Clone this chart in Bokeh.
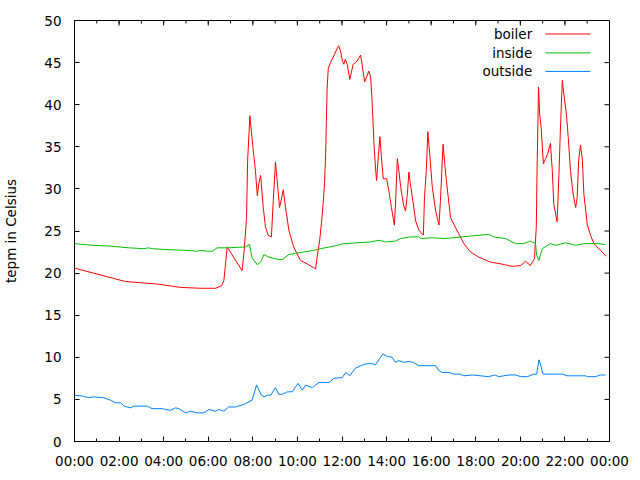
import math
from bokeh.plotting import figure
from bokeh.models import Range1d, FixedTicker
from bokeh.core.properties import value
from bokeh.embed import file_html
from bokeh.resources import INLINE

# ---------------- data ----------------
boiler_time = ["00:00", "00:51", "02:17", "03:43", "04:45", "05:39", "06:20", "06:36", "06:42",
               "06:51", "07:31", "07:36", "07:43", "07:46", "07:52", "07:56", "08:01", "08:07",
               "08:12", "08:16", "08:21", "08:28", "08:34", "08:41", "08:50", "08:55", "09:01",
               "09:07", "09:12", "09:16", "09:22", "09:28", "09:37", "09:50", "10:08", "10:26",
               "10:49", "10:53", "11:00", "11:07", "11:13", "11:16", "11:18", "11:20", "11:23",
               "11:29", "11:38", "11:45", "11:51", "11:56", "12:01", "12:05", "12:09", "12:14",
               "12:21", "12:30", "12:41", "12:50", "12:54", "13:01", "13:08", "13:12", "13:17",
               "13:21", "13:26", "13:30", "13:33", "13:37", "13:42", "13:46", "13:51", "14:00",
               "14:06", "14:13", "14:21", "14:24", "14:29", "14:33", "14:38", "14:46", "14:51",
               "14:56", "15:00", "15:04", "15:12", "15:18", "15:27", "15:39", "15:42", "15:47",
               "15:51", "15:56", "16:03", "16:12", "16:21", "16:25", "16:32", "16:39", "16:48",
               "16:52", "17:01", "17:14", "17:28", "17:46", "18:08", "18:40", "19:07", "19:38",
               "20:01", "20:14", "20:27", "20:38", "20:43", "20:45", "20:49", "20:52", "20:56",
               "21:02", "21:08", "21:14", "21:21", "21:26", "21:30", "21:35", "21:39", "21:44",
               "21:48", "21:53", "21:57", "22:04", "22:09", "22:15", "22:22", "22:29", "22:33",
               "22:37", "22:42", "22:47", "22:51", "23:00", "23:09", "23:18", "23:36", "23:51"]
boiler_temp = [20.6, 20.0, 19.0, 18.7, 18.3, 18.2, 18.2, 18.5, 19.1,
               23.1, 20.3, 22.3, 26.5, 33.4, 38.7, 36.9, 34.6, 32.2,
               29.2, 30.6, 31.6, 27.8, 25.5, 24.5, 24.3, 28.6, 33.2,
               30.2, 27.8, 28.6, 29.9, 27.8, 25.1, 23.1, 21.5, 21.1,
               20.5, 21.9, 23.9, 27.0, 30.6, 34.2, 38.1, 41.9, 44.3,
               45.0, 45.8, 46.5, 47.0, 46.4, 45.2, 44.8, 45.4, 44.8,
               43.0, 44.8, 45.2, 45.9, 44.8, 42.7, 43.5, 44.0, 43.3,
               40.5, 35.4, 32.6, 31.0, 33.4, 36.2, 33.8, 31.2, 31.2,
               29.8, 27.8, 25.7, 28.2, 33.6, 32.2, 30.2, 28.0, 27.4,
               29.4, 32.0, 30.6, 28.2, 26.2, 25.1, 24.5, 29.0, 32.2,
               36.8, 34.2, 30.2, 27.4, 25.7, 28.6, 35.3, 31.8, 28.2,
               26.6, 25.8, 24.7, 23.5, 22.5, 21.9, 21.3, 21.1, 20.8,
               20.9, 21.4, 20.9, 21.7, 25.5, 32.2, 42.1, 38.9, 37.3,
               33.0, 33.6, 34.2, 35.4, 32.2, 28.2, 27.0, 26.1, 31.8,
               37.3, 42.9, 41.3, 38.9, 36.1, 32.2, 29.4, 27.8, 29.0,
               33.4, 35.2, 33.4, 29.4, 25.8, 24.5, 23.5, 22.7, 22.0]

inside_time = ["00:00", "00:48", "01:37", "02:26", "03:07", "03:19", "03:30", "04:05", "05:03",
               "05:30", "05:39", "05:57", "06:11", "06:24", "06:51", "07:40", "07:51", "07:58",
               "08:12", "08:21", "08:30", "08:43", "09:10", "09:19", "09:37", "10:00", "10:17",
               "10:44", "11:02", "11:38", "12:05", "12:41", "13:17", "13:39", "13:57", "14:24",
               "14:38", "15:04", "15:27", "15:31", "16:03", "16:34", "17:01", "17:46", "18:35",
               "18:49", "19:20", "19:47", "20:09", "20:27", "20:41", "20:44", "20:50", "20:59",
               "21:21", "21:35", "22:02", "22:29", "22:51", "23:27", "23:49"]
inside_temp = [23.5, 23.3, 23.2, 23.0, 22.9, 23.0, 22.9, 22.8, 22.7,
               22.6, 22.7, 22.6, 22.6, 23.0, 23.0, 23.1, 23.4, 21.8,
               21.0, 21.3, 22.2, 21.9, 21.6, 21.6, 22.2, 22.4, 22.5,
               22.7, 22.9, 23.2, 23.5, 23.6, 23.7, 23.9, 23.7, 23.8,
               24.1, 24.3, 24.3, 24.1, 24.2, 24.1, 24.2, 24.4, 24.6,
               24.3, 24.1, 23.5, 23.5, 23.8, 23.5, 22.1, 21.5, 22.9,
               23.5, 23.3, 23.6, 23.3, 23.5, 23.5, 23.4]

outside_time = ["00:00", "00:21", "00:38", "00:52", "01:19", "01:37", "01:50", "02:04", "02:13",
                "02:31", "02:40", "03:16", "03:29", "03:56", "04:18", "04:32", "04:41", "04:59",
                "05:12", "05:30", "05:48", "06:02", "06:20", "06:28", "06:42", "06:55", "07:13",
                "07:36", "07:58", "08:10", "08:23", "08:30", "08:39", "08:48", "09:01", "09:10",
                "09:19", "09:33", "09:46", "10:02", "10:13", "10:22", "10:40", "10:58", "11:25",
                "11:38", "12:01", "12:10", "12:21", "12:36", "12:50", "13:03", "13:17", "13:30",
                "13:39", "13:50", "14:02", "14:15", "14:24", "14:33", "14:46", "15:00", "15:12",
                "15:27", "16:12", "16:21", "16:30", "16:48", "17:01", "17:19", "17:28", "17:51",
                "18:13", "18:35", "18:51", "19:02", "19:29", "19:47", "20:01", "20:19", "20:36",
                "20:44", "20:50", "20:54", "21:01", "21:26", "21:53", "22:06", "22:56", "23:00",
                "23:22", "23:36", "23:49"]
outside_temp = [5.5, 5.4, 5.2, 5.3, 5.2, 4.9, 4.6, 4.6, 4.2,
                4.0, 4.2, 4.2, 3.9, 3.9, 3.7, 4.0, 3.9, 3.4,
                3.6, 3.4, 3.4, 3.8, 3.6, 3.8, 3.6, 4.1, 4.1,
                4.4, 4.9, 6.7, 5.5, 5.3, 5.5, 5.5, 6.4, 5.6,
                5.6, 5.9, 5.9, 6.9, 6.1, 6.7, 6.4, 7.0, 7.0,
                7.5, 7.6, 8.2, 7.8, 8.7, 9.0, 9.2, 9.3, 9.1,
                9.7, 10.4, 10.1, 10.0, 9.4, 9.6, 9.4, 9.5, 9.4,
                9.0, 9.0, 8.4, 8.2, 8.2, 8.0, 8.0, 7.8, 7.9,
                7.8, 7.7, 7.9, 7.7, 7.9, 7.9, 7.7, 7.7, 8.0,
                8.0, 9.7, 9.2, 8.0, 8.0, 8.0, 7.8, 7.8, 7.7,
                7.7, 7.9, 7.9]

series_names = ["boiler", "inside", "outside"]
series_colors = ["#ff0000", "#00c000", "#0080ff"]

x_ticks = [0, 2, 4, 6, 8, 10, 12, 14, 16, 18, 20, 22, 24]
x_minor_ticks = list(range(25))
x_tick_labels = ["00:00", "02:00", "04:00", "06:00", "08:00", "10:00", "12:00",
                 "14:00", "16:00", "18:00", "20:00", "22:00", "00:00"]
y_ticks = [0, 5, 10, 15, 20, 25, 30, 35, 40, 45, 50]
y_label = "tepm in Celsius"


def hours(ts):
    return [int(t[:2]) + int(t[3:]) / 60.0 for t in ts]


FONT = "DejaVu Sans"
FS = "13.5px"

p = figure(width=640, height=480, x_range=Range1d(x_ticks[0], x_ticks[-1]),
           y_range=Range1d(y_ticks[0], y_ticks[-1]),
           output_backend="svg", toolbar_location=None,
           min_border_left=74, min_border_right=31, min_border_top=20, min_border_bottom=39)
p.xgrid.visible = False
p.ygrid.visible = False
p.outline_line_color = "black"
p.outline_line_width = 1
p.background_fill_color = "white"
p.border_fill_color = "white"

xa = p.xaxis[0]
xa.ticker = FixedTicker(ticks=x_ticks, minor_ticks=x_minor_ticks)
xa.major_label_overrides = {t: l for t, l in zip(x_ticks, x_tick_labels)}
ya = p.yaxis[0]
ya.ticker = FixedTicker(ticks=y_ticks, minor_ticks=[])
ya.axis_label = y_label

for ax in (xa, ya):
    ax.major_tick_in = 5
    ax.major_tick_out = 0
    ax.minor_tick_in = 3
    ax.minor_tick_out = 0
    ax.axis_line_color = "black"
    ax.major_tick_line_color = "black"
    ax.minor_tick_line_color = "black"
    ax.major_label_text_font = FONT
    ax.major_label_text_font_size = FS
    ax.major_label_text_color = "#000000"
    ax.axis_label_text_font = FONT
    ax.axis_label_text_font_size = FS
    ax.axis_label_text_font_style = "normal"
    ax.axis_label_text_color = "#000000"
xa.major_label_standoff = 11
ya.major_label_standoff = 13
ya.axis_label_standoff = 22

# mirrored inward ticks on the top and right edges (gnuplot style border ticks)
x_top = x_ticks[-1]
y_top = y_ticks[-1]
p.ray(x=x_ticks, y=[y_top] * len(x_ticks), length=5, length_units="screen",
      angle=-math.pi / 2, line_color="black", line_width=1)
p.ray(x=x_minor_ticks, y=[y_top] * len(x_minor_ticks), length=3, length_units="screen",
      angle=-math.pi / 2, line_color="black", line_width=1)
p.ray(x=[x_top] * len(y_ticks), y=y_ticks, length=5, length_units="screen",
      angle=math.pi, line_color="black", line_width=1)

times = [boiler_time, inside_time, outside_time]
temps = [boiler_temp, inside_temp, outside_temp]
for name, col, ts, vs in zip(series_names, series_colors, times, temps):
    p.line(hours(ts), vs, line_color=col, line_width=1)

# legend (label left of sample, gnuplot style) in a normalized frame range
p.extra_x_ranges = {"leg": Range1d(0, 1)}
p.extra_y_ranges = {"leg": Range1d(0, 1)}
leg_y = [0.968, 0.923, 0.879]
p.text(x=[0.8555] * 3, y=leg_y, text=series_names, x_range_name="leg", y_range_name="leg",
       text_font=value(FONT), text_font_size=FS, text_align="right", text_baseline="middle",
       text_color="#000000")
p.segment(x0=[0.880] * 3, y0=leg_y, x1=[0.9645] * 3, y1=leg_y, line_color=series_colors,
          line_width=1, x_range_name="leg", y_range_name="leg")

open("out.html", "w").write(file_html(p, INLINE))
